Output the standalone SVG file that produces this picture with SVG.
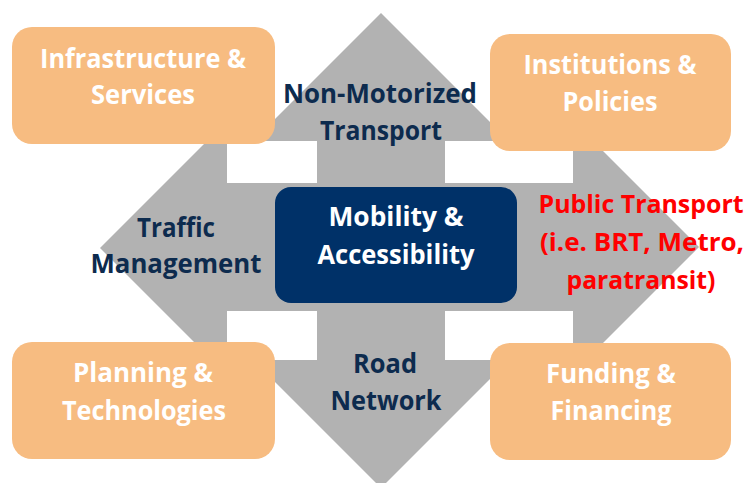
<svg xmlns="http://www.w3.org/2000/svg" width="749" height="483" viewBox="0 0 749 483">
  <style>
    text { font-family: "Open Sans", "Liberation Sans", sans-serif; font-weight: bold; text-anchor: middle; }
    .box { fill: #F7BC81; }
    .boxtxt { fill: #FFFFFF; font-size: 26px; }
    .lbl { fill: #0D2B4E; font-size: 26px; }
    .core { fill: #003168; }
    .coretxt { fill: #FFFFFF; font-size: 26px; }
    .red { fill: #FF0000; font-size: 25px; }
    .arrow { fill: #B2B2B2; }
  </style>
  <rect width="749" height="483" fill="#FFFFFF"/>

  <g id="connectors">
    <path class="arrow" d="M381,13 L509,141 L445,141 L445,183 L573,183 L573,121 L699,247 L573,373 L573,311 L445,311 L445,360 L509,360 L381,488 L253,360 L317,360 L317,311 L227,311 L227,375 L100,248 L227,121 L227,183 L317,183 L317,141 L253,141 Z"/>
  </g>

  <g id="label-non-motorized">
    <text class="lbl" x="380" y="103" textLength="194" lengthAdjust="spacingAndGlyphs">Non-Motorized</text>
    <text class="lbl" x="381" y="140" textLength="122" lengthAdjust="spacingAndGlyphs">Transport</text>
  </g>
  <g id="label-traffic">
    <text class="lbl" x="176" y="237" textLength="78" lengthAdjust="spacingAndGlyphs">Traffic</text>
    <text class="lbl" x="176" y="273" textLength="171" lengthAdjust="spacingAndGlyphs">Management</text>
  </g>
  <g id="label-road">
    <text class="lbl" x="385" y="373" textLength="64" lengthAdjust="spacingAndGlyphs">Road</text>
    <text class="lbl" x="386" y="410" textLength="111" lengthAdjust="spacingAndGlyphs">Network</text>
  </g>
  <g id="label-public-transport">
    <text class="red" x="641" y="213" textLength="205" lengthAdjust="spacingAndGlyphs">Public Transport</text>
    <text class="red" x="642" y="251" textLength="204" lengthAdjust="spacingAndGlyphs">(i.e. BRT, Metro,</text>
    <text class="red" x="641" y="289" textLength="149" lengthAdjust="spacingAndGlyphs">paratransit)</text>
  </g>

  <g id="node-infrastructure">
    <rect class="box" x="12" y="27" width="263" height="117" rx="20"/>
    <text class="boxtxt" x="143" y="68" textLength="206" lengthAdjust="spacingAndGlyphs">Infrastructure &amp;</text>
    <text class="boxtxt" x="143" y="104" textLength="104" lengthAdjust="spacingAndGlyphs">Services</text>
  </g>
  <g id="node-institutions">
    <rect class="box" x="490" y="34" width="241" height="117" rx="20"/>
    <text class="boxtxt" x="610" y="74" textLength="173" lengthAdjust="spacingAndGlyphs">Institutions &amp;</text>
    <text class="boxtxt" x="610" y="111" textLength="95" lengthAdjust="spacingAndGlyphs">Policies</text>
  </g>
  <g id="node-planning">
    <rect class="box" x="12" y="342" width="263" height="117" rx="20"/>
    <text class="boxtxt" x="143" y="382" textLength="140" lengthAdjust="spacingAndGlyphs">Planning &amp;</text>
    <text class="boxtxt" x="144" y="420" textLength="164" lengthAdjust="spacingAndGlyphs">Technologies</text>
  </g>
  <g id="node-funding">
    <rect class="box" x="490" y="343" width="241" height="117" rx="20"/>
    <text class="boxtxt" x="611" y="383" textLength="130" lengthAdjust="spacingAndGlyphs">Funding &amp;</text>
    <text class="boxtxt" x="611" y="420" textLength="121" lengthAdjust="spacingAndGlyphs">Financing</text>
  </g>
  <g id="node-mobility">
    <rect class="core" x="275" y="187" width="242" height="116" rx="16"/>
    <text class="coretxt" x="396" y="226" textLength="135" lengthAdjust="spacingAndGlyphs">Mobility &amp;</text>
    <text class="coretxt" x="396" y="264" textLength="157" lengthAdjust="spacingAndGlyphs">Accessibility</text>
  </g>
</svg>
